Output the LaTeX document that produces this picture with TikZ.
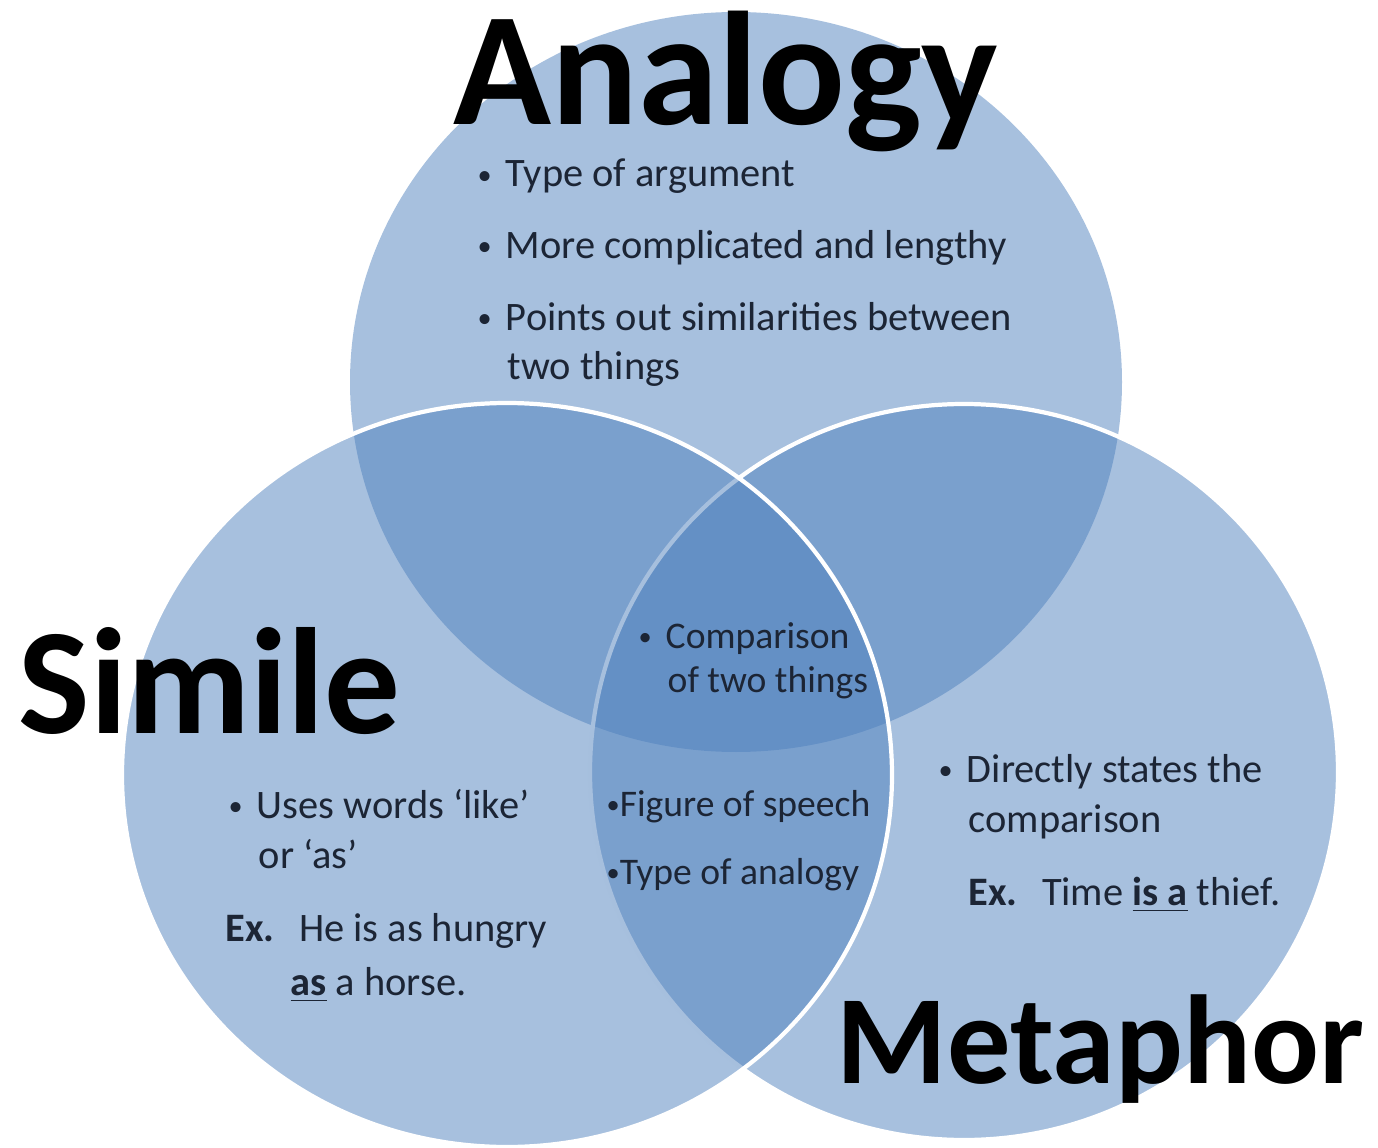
\documentclass[tikz,border=0pt]{standalone}
\usepackage{fontspec}
\setmainfont{Carlito}
\usepackage{tikz}

\definecolor{vennblue}{HTML}{4F81BD}
\definecolor{ink}{HTML}{1C2535}

\newcommand{\bul}{\raisebox{0.15ex}{\scalebox{0.7}{\textbullet}}}
\newcommand{\ulb}[1]{\underline{\textbf{#1}}}

\begin{document}
\begin{tikzpicture}[x=0.1mm,y=-0.1mm,
	set/.style={fill=vennblue, fill opacity=0.5, draw=white, line width=1.2pt},
	title/.style={text=black, inner sep=0pt, anchor=base west},
	txt/.style={font=\fontsize{11.5}{14}\selectfont, text=ink, inner sep=0pt, anchor=base west},
	mid/.style={txt, font=\fontsize{10.7}{13}\selectfont}]
	
	\useasboundingbox (0,0) rectangle (1378,1148);
	
	% the three sets
	\path[set, draw=none] (736,382) ellipse [x radius=386, y radius=370];
	\path[set] (964,772) ellipse [x radius=374, y radius=368];
	\path[set] (507,775) ellipse [x radius=385, y radius=372];
	
	% titles
	\node[title, text depth=0pt, font=\fontsize{46}{46}\selectfont\bfseries] (analogy) at (453,125) {Analogy};
	\node[title, font=\fontsize{43}{43}\selectfont\bfseries] (simile) at (18,733) {Simile};
	\node[title, font=\fontsize{36}{36}\selectfont\bfseries] (metaphor) at (836,1083) {Metaphor};
	
	% analogy
	\node[txt] (a1) at (477,187) {\bul\hspace{0.35em}Type of argument};
	\node[txt] (a2) at (477,258) {\bul\hspace{0.35em}More complicated and lengthy};
	\node[txt] (a3) at (477,330) {\bul\hspace{0.35em}Points out similarities between};
	\node[txt] (a4) at (507,379) {two things};
	
	% simile
	\node[txt] (s1) at (228,818) {\bul\hspace{0.35em}Uses words ‘like’};
	\node[txt] (s2) at (258,868) {or ‘as’};
	\node[txt] (s3) at (225,941) {\textbf{Ex.}\hspace{0.6em}He is as hungry};
	\node[txt] (s4) at (290,995) {\ulb{as} a horse.};
	
	% all three
	\node[mid] (c1) at (638,648) {\bul\hspace{0.37em}Comparison};
	\node[mid] (c2) at (667,692) {of two things};
	
	% simile and metaphor
	\node[mid] (sm1) at (606,816) {\bul Figure of speech};
	\node[mid] (sm2) at (606,884) {\bul Type of analogy};
	
	% metaphor
	\node[txt] (m1) at (938,782) {\bul\hspace{0.35em}Directly states the};
	\node[txt] (m2) at (968,832) {comparison};
	\node[txt] (m3) at (968,905) {\textbf{Ex.}\hspace{0.6em}Time \ulb{is a} thief.};
	
\end{tikzpicture}
\end{document}
